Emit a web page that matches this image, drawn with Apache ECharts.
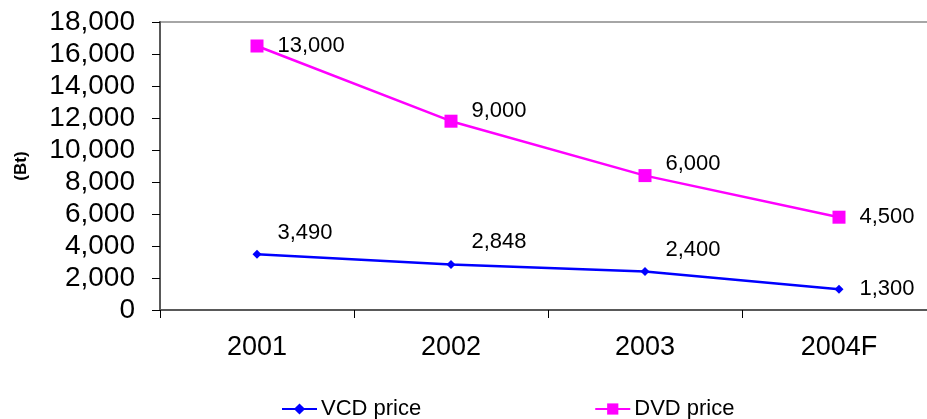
<!DOCTYPE html>
<html>
<head>
<meta charset="utf-8">
<script src="https://cdn.jsdelivr.net/npm/echarts@6/dist/echarts.min.js"></script>
<style>
  html, body { margin: 0; padding: 0; background: #fff; }
  #chart { width: 927px; height: 419px; }
</style>
</head>
<body>
<div id="chart"></div>
<script>
// categories and values
const years = ['2001', '2002', '2003', '2004F'];
const vcdPrice = [3490, 2848, 2400, 1300];
// DVD marks sit higher than their printed labels in the original
const dvdPlotted = [16500, 11800, 8400, 5800];
const dvdLabels = ['13,000', '9,000', '6,000', '4,500'];
const yTicks = [0, 2000, 4000, 6000, 8000, 10000, 12000, 14000, 16000, 18000];

const font = 'Liberation Sans, Arial, sans-serif';
const fmt = (v) => v.toLocaleString('en-US');

// label offsets: last point sits level, others lifted
const vcdLift = [-21, -22, -22, 0];
const dvdLift = [0, -10, -12, 0];

const option = {
  animation: false,
  grid: {
    left: 160,
    width: 776,
    top: 22,
    height: 288,
    outerBoundsMode: 'none',
    containLabel: false,
    show: true,
    borderColor: '#a6a6a6',
    borderWidth: 2
  },
  legend: {
    left: 276,
    top: 393,
    itemGap: 173,
    itemWidth: 35,
    itemHeight: 14,
    textStyle: { fontFamily: font, fontSize: 22, color: '#000', padding: [2, 0, 0, -1] },
    data: ['VCD price', 'DVD price']
  },
  xAxis: {
    type: 'category',
    data: years,
    boundaryGap: true,
    axisLine: { lineStyle: { color: '#595959', width: 2 } },
    axisTick: { show: true, length: 8, lineStyle: { color: '#000', width: 1 } },
    axisLabel: { fontFamily: font, fontSize: 27, color: '#000', margin: 24 }
  },
  yAxis: {
    type: 'value',
    min: 0,
    max: yTicks[yTicks.length - 1],
    interval: yTicks[1] - yTicks[0],
    name: '(Bt)',
    nameLocation: 'middle',
    nameGap: 130,
    nameRotate: 90,
    nameTextStyle: { fontFamily: font, fontSize: 17, fontWeight: 'bold', color: '#000' },
    splitLine: { show: false },
    axisLine: { show: true, lineStyle: { color: '#595959', width: 2 } },
    axisTick: { show: true, length: 8, lineStyle: { color: '#000', width: 1 } },
    axisLabel: { fontFamily: font, fontSize: 28, color: '#000', margin: 25, formatter: fmt }
  },
  series: [
    {
      name: 'VCD price',
      type: 'line',
      data: vcdPrice.map((v, i) => ({
        value: v,
        label: { offset: [0, vcdLift[i]] }
      })),
      symbol: 'diamond',
      symbolSize: 9,
      color: '#0000ff',
      lineStyle: { color: '#0000ff', width: 2.5 },
      label: {
        show: true,
        position: 'right',
        distance: 16,
        fontFamily: font,
        fontSize: 22,
        color: '#000',
        formatter: (p) => fmt(p.value)
      }
    },
    {
      name: 'DVD price',
      type: 'line',
      data: dvdPlotted.map((v, i) => ({
        value: v,
        label: { offset: [0, dvdLift[i]] }
      })),
      symbol: 'rect',
      symbolSize: 13,
      color: '#ff00ff',
      lineStyle: { color: '#ff00ff', width: 2.5 },
      label: {
        show: true,
        position: 'right',
        distance: 14,
        fontFamily: font,
        fontSize: 22,
        color: '#000',
        formatter: (p) => dvdLabels[p.dataIndex]
      }
    }
  ]
};

const chart = echarts.init(document.getElementById('chart'));
chart.setOption(option);
window.onresize = chart.resize;
</script>
</body>
</html>
